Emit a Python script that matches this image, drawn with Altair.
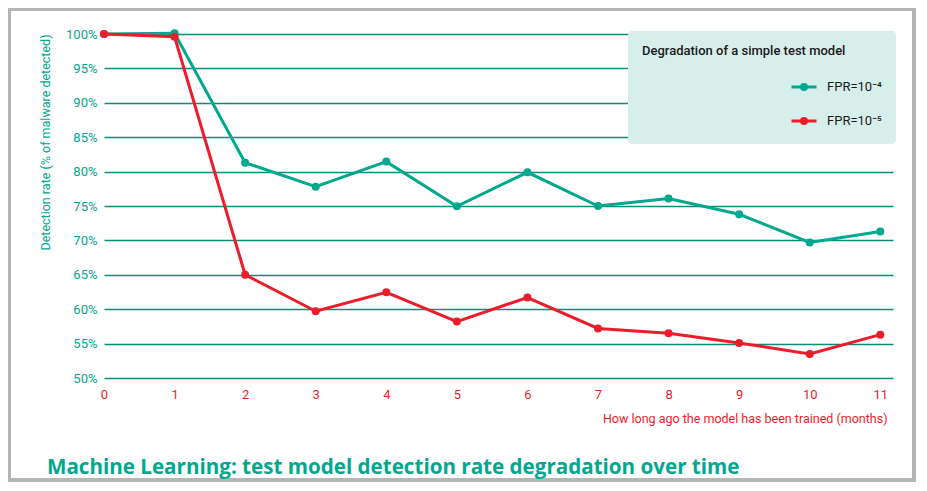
import altair as alt
import pandas as pd

months = list(range(12))
fpr4 = [100.0, 100.1, 81.3, 77.8, 81.45, 74.95, 79.9, 75.0, 76.1, 73.8, 69.7, 71.3]
fpr5 = [100.0, 99.6, 65.0, 59.7, 62.45, 58.2, 61.7, 57.2, 56.5, 55.1, 53.5, 56.3]
series = ["FPR=10⁻⁴", "FPR=10⁻⁵"]
colors = ["#00a88e", "#ec1c2b"]
y_ticks = [50, 55, 60, 65, 70, 75, 80, 85, 90, 95, 100]

GREEN = "#00a88e"
RED = "#ec1c2b"
GRID = "#0e8c79"
FONT = "Roboto"

df = pd.DataFrame({
    "month": months * 2,
    "rate": fpr4 + fpr5,
    "series": [series[0]] * len(fpr4) + [series[1]] * len(fpr5),
})

W, H = 789, 344

x = alt.X(
    "month:Q",
    scale=alt.Scale(domain=[0, 11.18], nice=False, zero=False),
    axis=alt.Axis(
        values=months, grid=False, domain=False, ticks=False, labelFlush=False,
        labelColor=RED, labelFontSize=13, labelPadding=10, labelFont=FONT,
        title="How long ago the model has been trained (months)",
        titleColor=RED, titleFontSize=12.5, titleFontWeight="normal", titleFont=FONT,
        titleAlign="right", titleX=783, titleY=40, titleBaseline="middle",
    ),
)
y = alt.Y(
    "rate:Q",
    scale=alt.Scale(domain=[50, 100], nice=False, zero=False),
    axis=alt.Axis(
        values=y_ticks, labelExpr="datum.value + '%'",
        grid=True, gridColor=GRID, gridWidth=1.4, domain=False, ticks=False,
        labelColor=GREEN, labelFontSize=13, labelPadding=7, labelFont=FONT,
        title="Detection rate (% of malware detected)",
        titleColor=GREEN, titleFontSize=12.5, titleFontWeight="normal", titleFont=FONT,
        titleAngle=270, titleAlign="center", titleBaseline="middle",
        titleX=-59, titleY=108,
    ),
)
color = alt.Color(
    "series:N",
    scale=alt.Scale(domain=series, range=colors),
    legend=alt.Legend(
        title="Degradation of a simple test model",
        orient="none", legendX=524, legendY=-3,
        fillColor="#d7efea", cornerRadius=4, padding=14,
        titleFontSize=13, titleFontWeight=500, titleColor="#1a1a1a", titleFont=FONT,
        titlePadding=15, rowPadding=11, titleLimit=400, labelLimit=200,
        labelFontSize=13, labelColor="#1a1a1a", labelFont=FONT,
        symbolType="M-1,0L1,0M0.2,0A0.2,0.2,0,1,1,-0.2,0A0.2,0.2,0,1,1,0.2,0",
        symbolSize=625, symbolStrokeWidth=3,
        symbolOffset=148, labelOffset=9,
    ),
)

lines = alt.Chart(df).mark_line(
    strokeWidth=3,
    point=alt.OverlayMarkDef(size=64, filled=True, opacity=1),
).encode(x=x, y=y, color=color)

frame = alt.Chart(df).mark_rect(
    fill=None, stroke="#b5b5b5", strokeWidth=3
).encode(
    x=alt.value(-94.5), x2=alt.value(810), y=alt.value(-24.5), y2=alt.value(446)
)

chart = alt.layer(frame, lines).properties(
    width=W, height=H,
    autosize=alt.AutoSizeParams(type="none"),
    padding={"left": 96, "top": 26, "right": 23, "bottom": 104},
    title=alt.TitleParams(
        "Machine Learning: test model detection rate degradation over time",
        orient="bottom", anchor="start", frame="group", fontSize=20.6, fontWeight="bold",
        color=GREEN, font="Open Sans", dx=-57, offset=0, dy=-24,
    ),
).configure_view(stroke=None)

chart.save("out.html", embed_options={"renderer": "svg", "actions": False})
